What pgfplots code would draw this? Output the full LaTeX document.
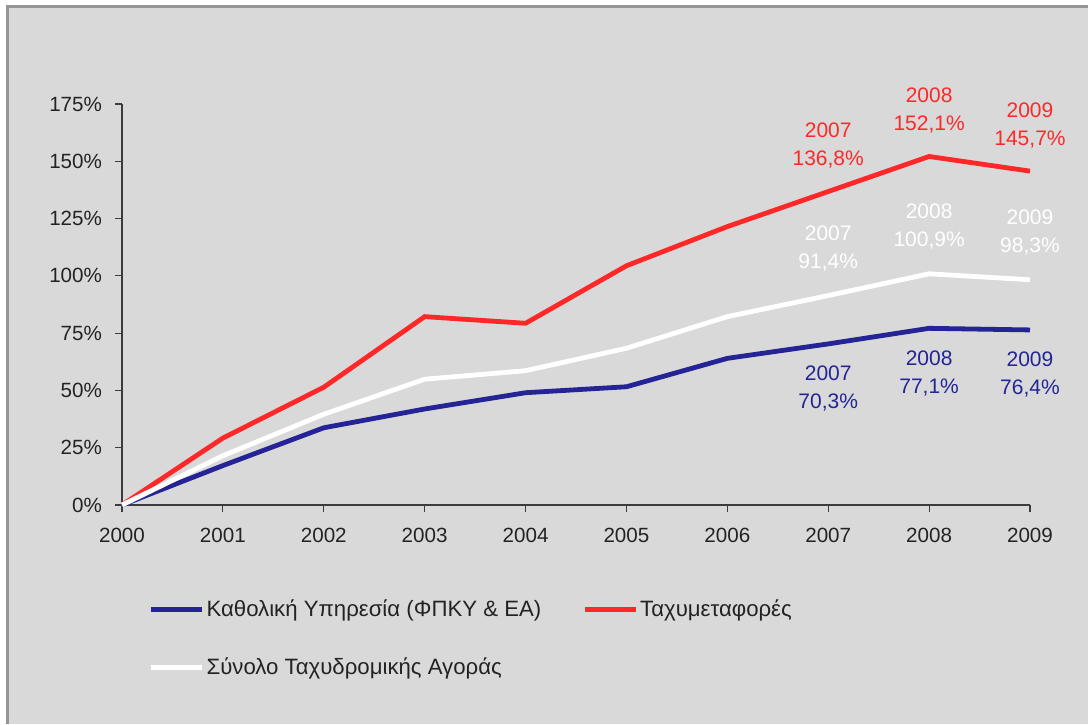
\documentclass[border=0pt]{standalone}
\usepackage{fontspec}
\setmainfont{Liberation Sans}
\usepackage{pgfplots}
\pgfplotsset{compat=1.18}
\definecolor{bgcol}{RGB}{217,217,217}
\definecolor{framecol}{RGB}{150,150,150}
\definecolor{txtcol}{RGB}{35,35,35}
\definecolor{axcol}{RGB}{60,60,60}
\definecolor{univblue}{RGB}{36,36,150}
\definecolor{courred}{RGB}{255,40,40}

\begin{document}
\begin{tikzpicture}
\useasboundingbox (0,0) rectangle (544pt,362pt);
\fill[white] (0,0) rectangle (544pt,362pt);
\fill[bgcol] (3.75pt,0) rectangle (544pt,358.75pt);
\draw[framecol, line width=1.5pt] (3.75pt,0) -- (3.75pt,358.75pt) -- (544pt,358.75pt);
\begin{axis}[
  at={(61pt,109.5pt)}, anchor=south west,
  scale only axis,
  width=454pt, height=200.5pt,
  xmin=2000, xmax=2009,
  ymin=0, ymax=175,
  clip=false,
  axis lines*=left,
  axis line style={draw=axcol, line width=0.6pt},
  tick style={draw=axcol, line width=0.6pt},
  tick align=outside,
  major tick length=3.5pt,
  xtick={2000,2001,...,2009},
  ytick={0,25,...,175},
  yticklabels={0\%,25\%,50\%,75\%,100\%,125\%,150\%,175\%},
  /pgf/number format/assume math mode=true,
  xticklabel style={/pgf/number format/1000 sep={}, yshift=-4.5pt},
  yticklabel style={xshift=-3pt},
  ticklabel style={font=\fontsize{10.3}{12}\selectfont, text=txtcol},
  legend columns=2,
  legend style={at={(axis description cs:0.029,-0.333)}, anchor=west,
    draw=none, fill=none, inner sep=0pt,
    font=\fontsize{11.1}{13}\selectfont, text=txtcol,
    nodes={inner sep=1pt, anchor=west},
    row sep=17.5pt,
    /tikz/every even column/.append style={column sep=19.5pt}},
  legend image code/.code={\draw[#1, line width=2.4pt] (0pt,0pt) -- (25.5pt,0pt);},
  every node near coord/.append style={font=\fontsize{10.5}{14}\selectfont, align=center, inner sep=0pt},
]
\addplot[univblue, line width=2.4pt] coordinates {
  (2000,0) (2001,17.2) (2002,33.7) (2003,41.9) (2004,49.0) (2005,51.6) (2006,64.0) (2007,70.3) (2008,77.1) (2009,76.4)};
\addlegendentry{Καθολική Υπηρεσία (ΦΠΚΥ \& ΕΑ)}
\addplot[courred, line width=2.4pt] coordinates {
  (2000,0) (2001,29.2) (2002,51.4) (2003,82.2) (2004,79.3) (2005,104.4) (2006,121.5) (2007,136.8) (2008,152.1) (2009,145.7)};
\addlegendentry{Ταχυμεταφορές}
\addplot[white, line width=2.4pt] coordinates {
  (2000,0) (2001,21.5) (2002,39.6) (2003,54.9) (2004,58.6) (2005,68.4) (2006,82.2) (2007,91.4) (2008,100.9) (2009,98.3)};
\addlegendentry{Σύνολο Ταχυδρομικής Αγοράς}
% value labels
\addplot[draw=none, forget plot, point meta=explicit symbolic,
  nodes near coords, nodes near coords style={text=univblue, anchor=north, yshift=-11pt}]
  coordinates {(2007,70.3) [2007\\70,3\%] (2008,77.1) [2008\\77,1\%] (2009,76.4) [2009\\76,4\%]};
\addplot[draw=none, forget plot, point meta=explicit symbolic,
  nodes near coords, nodes near coords style={text=courred, anchor=south, yshift=11.5pt}]
  coordinates {(2007,136.8) [2007\\136,8\%] (2008,152.1) [2008\\152,1\%] (2009,145.7) [2009\\145,7\%]};
\addplot[draw=none, forget plot, point meta=explicit symbolic,
  nodes near coords, nodes near coords style={text=white, anchor=south, yshift=12pt}]
  coordinates {(2007,91.4) [2007\\91,4\%] (2008,100.9) [2008\\100,9\%] (2009,98.3) [2009\\98,3\%]};
\end{axis}
\end{tikzpicture}
\end{document}
